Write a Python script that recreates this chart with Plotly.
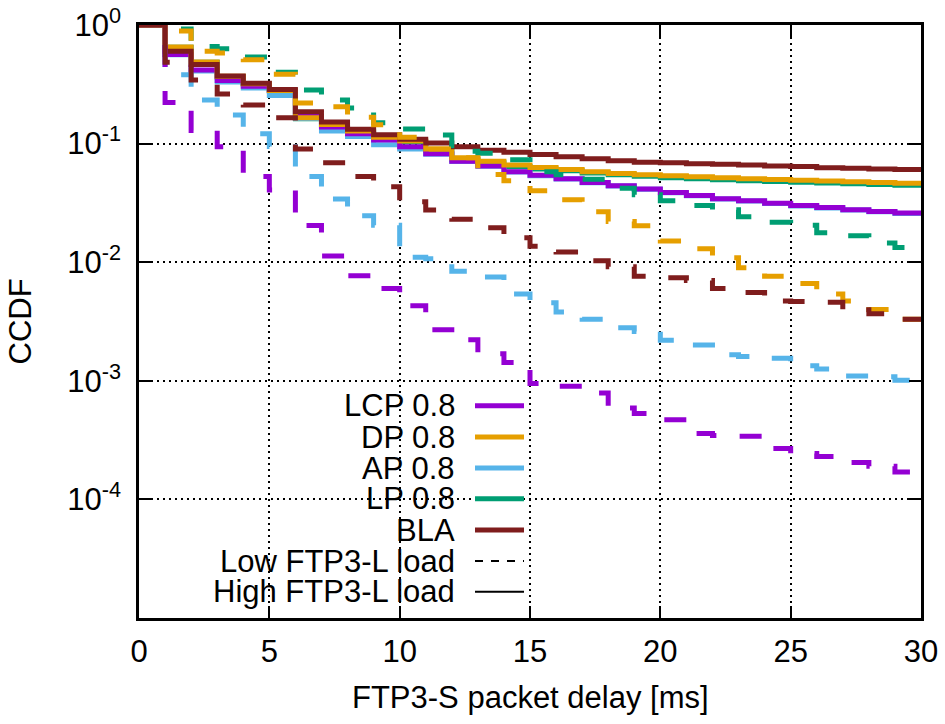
import plotly.graph_objects as go

# ---------------- data (CCDF per 1 ms delay bin) ----------------
delay_ms = list(range(0, 31))  # bin edges 0..30 ms

lcp_low = [1.0, 0.222, 0.129, 0.094, 0.0527, 0.0407, 0.0204, 0.0113, 0.0077, 0.006,
           0.0043, 0.0027, 0.00222, 0.00169, 0.00143, 0.00095, 0.0009, 0.00079, 0.00059, 0.00053,
           0.00047, 0.00036, 0.000345, 0.00034, 0.000268, 0.000244, 0.00023, 0.000205, 0.00019, 0.00017]
lcp_high = [1.0, 0.564, 0.418, 0.34, 0.305, 0.28, 0.17, 0.138, 0.121, 0.107,
            0.094, 0.082, 0.071, 0.0648, 0.058, 0.054, 0.0505, 0.047, 0.0441, 0.0415,
            0.0387, 0.0365, 0.0343, 0.033, 0.0314, 0.030, 0.0289, 0.0277, 0.0268, 0.026]
dp_low = [1.0, 0.89, 0.6, 0.58, 0.51, 0.385, 0.22, 0.205, 0.167, 0.144,
          0.113, 0.09, 0.0758, 0.055, 0.0485, 0.04, 0.0336, 0.0266, 0.022, 0.0203,
          0.0151, 0.013, 0.0109, 0.009, 0.0076, 0.0066, 0.0054, 0.0047, 0.004, 0.0033]
dp_high = [1.0, 0.653, 0.487, 0.37, 0.32, 0.28, 0.165, 0.145, 0.128, 0.113,
           0.105, 0.09, 0.0758, 0.0709, 0.066, 0.063, 0.0606, 0.058, 0.056, 0.0547,
           0.0535, 0.0525, 0.0515, 0.0505, 0.0498, 0.049, 0.0483, 0.0476, 0.047, 0.0463]
ap_low = [1.0, 0.38, 0.233, 0.174, 0.121, 0.0944, 0.0527, 0.0341, 0.0246, 0.0205,
          0.011, 0.0107, 0.0084, 0.0075, 0.0054, 0.00455, 0.0038, 0.0033, 0.0028, 0.0026,
          0.0022, 0.002, 0.00166, 0.0016, 0.00155, 0.00134, 0.00126, 0.0011, 0.00108, 0.00101]
ap_high = [1.0, 0.56, 0.41, 0.33, 0.295, 0.255, 0.163, 0.128, 0.115, 0.098,
           0.09, 0.0815, 0.0705, 0.0644, 0.0577, 0.0537, 0.0502, 0.0467, 0.0439, 0.0413,
           0.0385, 0.0363, 0.0341, 0.0328, 0.0312, 0.0298, 0.0287, 0.0275, 0.0266, 0.0258]
lp_low = [1.0, 0.925, 0.66, 0.63, 0.537, 0.40, 0.283, 0.233, 0.2, 0.15,
          0.133, 0.118, 0.086, 0.0828, 0.073, 0.058, 0.0547, 0.05, 0.042, 0.037,
          0.033, 0.030, 0.0277, 0.0242, 0.0217, 0.0205, 0.0177, 0.0167, 0.0145, 0.0133]
lp_high = [1.0, 0.65, 0.485, 0.365, 0.318, 0.278, 0.162, 0.142, 0.125, 0.111,
           0.103, 0.088, 0.0735, 0.069, 0.064, 0.061, 0.059, 0.0565, 0.0545, 0.053,
           0.0515, 0.0505, 0.0495, 0.0487, 0.048, 0.0472, 0.0465, 0.0458, 0.0452, 0.0446]
bla_low = [1.0, 0.485, 0.344, 0.262, 0.212, 0.165, 0.09, 0.0688, 0.0527, 0.0432,
           0.0323, 0.0276, 0.023, 0.0195, 0.0161, 0.0136, 0.0122, 0.0103, 0.00915, 0.0076,
           0.0074, 0.007, 0.006, 0.00556, 0.0047, 0.00467, 0.0046, 0.00397, 0.00367, 0.0033]
bla_high = [1.0, 0.60, 0.465, 0.372, 0.323, 0.286, 0.186, 0.152, 0.132, 0.119,
            0.109, 0.101, 0.094, 0.088, 0.0845, 0.081, 0.0775, 0.0745, 0.0717, 0.0695,
            0.069, 0.0676, 0.067, 0.066, 0.0648, 0.064, 0.0627, 0.0619, 0.0612, 0.0604]

method_names = ["LCP 0.8", "DP 0.8", "AP 0.8", "LP 0.8", "BLA"]
load_names = ["Low FTP3-L load", "High FTP3-L load"]
x_ticks = [0, 5, 10, 15, 20, 25, 30]
y_ticks = [1, 0.1, 0.01, 0.001, 0.0001]
y_ticktext = ["10<sup>0</sup>", "10<sup>-1</sup>", "10<sup>-2</sup>", "10<sup>-3</sup>", "10<sup>-4</sup>"]

# ---------------- styles ----------------
colors = {"LCP 0.8": "#9400D3", "DP 0.8": "#E69F00", "AP 0.8": "#56B4E9",
          "LP 0.8": "#009E73", "BLA": "#7F1D1D"}
series = {
    "LCP 0.8": (lcp_low, lcp_high),
    "DP 0.8": (dp_low, dp_high),
    "AP 0.8": (ap_low, ap_high),
    "LP 0.8": (lp_low, lp_high),
    "BLA": (bla_low, bla_high),
}
FONT = "Liberation Sans, Arial, Helvetica, sans-serif"
FS = 31

fig = go.Figure()

draw_order = ["LP 0.8", "AP 0.8", "LCP 0.8", "DP 0.8", "BLA"]
# high load (solid) first, then low load (dashed)
for load_idx, dash in ((1, "solid"), (0, "22px,24px")):
    for name in draw_order:
        vals = series[name][load_idx]
        fig.add_trace(go.Scatter(
            x=delay_ms, y=vals + [vals[-1]],
            mode="lines", line=dict(color=colors[name], width=5, dash=dash, shape="hv"),
            showlegend=False, hoverinfo="skip"))

# ---------------- layout ----------------
L, R, T, B = 139, 24, 25, 106
W, H = 945, 724
pw, ph = W - L - R, H - T - B

def px2paper_x(px):
    return (px - L) / pw

def py2paper_y(py):
    return (T + ph - py) / ph

axis_common = dict(
    showline=True, linecolor="black", linewidth=2.5, mirror="ticks",
    ticks="inside", ticklen=12, tickwidth=2, tickcolor="black",
    showgrid=True, gridcolor="black", gridwidth=1.6, griddash="2px,4px",
    zeroline=False, automargin=False,
    tickfont=dict(family=FONT, size=FS, color="black"),
)

fig.update_layout(
    width=W, height=H,
    margin=dict(l=L, r=R, t=T, b=B, pad=0, autoexpand=False),
    paper_bgcolor="white", plot_bgcolor="white",
    font=dict(family=FONT, size=FS, color="black"),
    xaxis=dict(range=[0, 30], tickvals=x_ticks, ticklabelstandoff=4, **axis_common),
    yaxis=dict(type="log", range=[-5, 0], tickvals=y_ticks, ticktext=y_ticktext,
               ticklabelstandoff=9, **axis_common),
)

# axis titles
fig.add_annotation(text="FTP3-S packet delay [ms]", xref="paper", yref="paper",
                   x=0.5, y=py2paper_y(697), xanchor="center", yanchor="middle",
                   showarrow=False, font=dict(family=FONT, size=FS, color="black"))
fig.add_annotation(text="CCDF", xref="paper", yref="paper",
                   x=px2paper_x(20), y=0.5, xanchor="center", yanchor="middle", textangle=-90,
                   showarrow=False, font=dict(family=FONT, size=FS, color="black"))

# opaque key box (covers grid only)
fig.add_shape(type="rect", xref="paper", yref="paper",
              x0=px2paper_x(158), x1=px2paper_x(540), y0=py2paper_y(612), y1=py2paper_y(388),
              fillcolor="white", line=dict(width=0), layer="between")

row_py = [405.7, 437, 468, 498.7, 530, 561, 591.7]
text_right = px2paper_x(457)
s0, s1 = px2paper_x(475), px2paper_x(524)
labels = method_names + load_names
for i, lab in enumerate(labels):
    yy = py2paper_y(row_py[i])
    fig.add_annotation(text=lab, xref="paper", yref="paper", x=text_right, y=yy,
                       xanchor="right", yanchor="middle", showarrow=False,
                       font=dict(family=FONT, size=FS, color="black"))
    if i < len(method_names):
        ln = dict(color=colors[lab], width=5)
    elif i == len(method_names):
        ln = dict(color="black", width=2, dash="8px,8px")
    else:
        ln = dict(color="black", width=2)
    fig.add_shape(type="line", xref="paper", yref="paper", x0=s0, x1=s1, y0=yy, y1=yy,
                  line=ln, layer="above")

fig.write_html("out.html", post_script="document.body.style.margin='0px';",
               config={"displayModeBar": False})
